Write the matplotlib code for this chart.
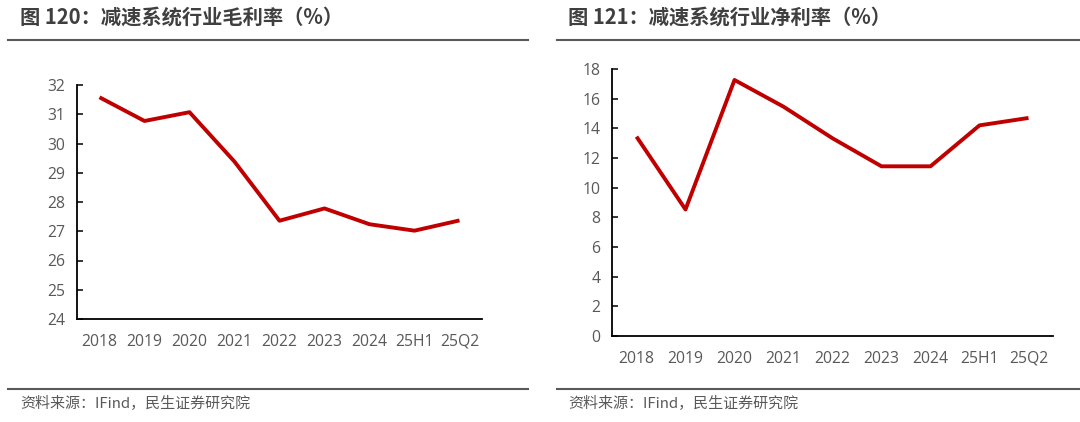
import matplotlib
matplotlib.use("Agg")
import matplotlib.pyplot as plt
from matplotlib.lines import Line2D

plt.rcParams['font.family'] = ['Noto Sans CJK SC', 'DejaVu Sans']

categories = ["2018", "2019", "2020", "2021", "2022", "2023", "2024", "25H1", "25Q2"]
gross_margin = [31.58, 30.77, 31.07, 29.38, 27.36, 27.78, 27.24, 27.02, 27.37]
net_margin = [13.44, 8.53, 17.26, 15.46, 13.33, 11.44, 11.44, 14.20, 14.70]

title_left = "图 120：减速系统行业毛利率（%）"
title_right = "图 121：减速系统行业净利率（%）"
source_text = "资料来源：IFind，民生证券研究院"

W, H = 1080, 422
fig = plt.figure(figsize=(W / 100, H / 100), dpi=100)
fig.patch.set_facecolor("white")

LINE_COLOR = "#C00000"
TEXT_GRAY = "#595959"
TITLE_COLOR = "#3F3F3F"
RULE_COLOR = "#595959"
TICK_FONT = ['Open Sans', 'Noto Sans CJK SC']


def px_axes(x0, y0, x1, y1):
    return fig.add_axes([x0 / W, 1 - y1 / H, (x1 - x0) / W, (y1 - y0) / H])


def style(ax, ylim, yticks):
    x = list(range(len(categories)))
    ax.set_xlim(-0.5, len(categories) - 0.5)
    ax.set_ylim(*ylim)
    ax.set_yticks(yticks)
    ax.set_xticks(x)
    ax.set_xticklabels(categories)
    for s in ["top", "right"]:
        ax.spines[s].set_visible(False)
    for s in ["left", "bottom"]:
        ax.spines[s].set_color("black")
        ax.spines[s].set_linewidth(1.3)
    ax.tick_params(axis="y", direction="in", length=4.5, width=1.1, color="black",
                   labelsize=11.3, labelcolor=TEXT_GRAY, pad=8.5)
    ax.tick_params(axis="x", length=0, labelsize=11.3, labelcolor=TEXT_GRAY, pad=10.5)
    for lab in ax.get_xticklabels() + ax.get_yticklabels():
        lab.set_family(TICK_FONT)


ax1 = px_axes(77, 85, 482, 319)
ax1.plot(range(len(categories)), gross_margin, color=LINE_COLOR, lw=2.8,
         solid_joinstyle="round", solid_capstyle="butt")
style(ax1, (24, 32), range(24, 33, 1))

ax2 = px_axes(612, 69, 1053, 336)
ax2.plot(range(len(categories)), net_margin, color=LINE_COLOR, lw=2.8,
         solid_joinstyle="round", solid_capstyle="butt")
style(ax2, (0, 18), range(0, 19, 2))

# titles
fig.text(20 / W, 1 - 17 / H, title_left, fontsize=14.6, fontweight="bold",
         color=TITLE_COLOR, va="center", ha="left")
fig.text(568 / W, 1 - 17 / H, title_right, fontsize=14.6, fontweight="bold",
         color=TITLE_COLOR, va="center", ha="left")

# rules
for (x0, x1) in [(8, 528), (557, 1080)]:
    for y in (40, 389):
        fig.add_artist(Line2D([x0 / W, x1 / W], [1 - y / H, 1 - y / H],
                              transform=fig.transFigure, color=RULE_COLOR, lw=1.5))

# sources
fig.text(20 / W, 1 - 404 / H, source_text, fontsize=10.8, color=TEXT_GRAY,
         va="center", ha="left")
fig.text(568 / W, 1 - 404 / H, source_text, fontsize=10.8, color=TEXT_GRAY,
         va="center", ha="left")

fig.savefig("out.png", dpi=100, facecolor="white")
